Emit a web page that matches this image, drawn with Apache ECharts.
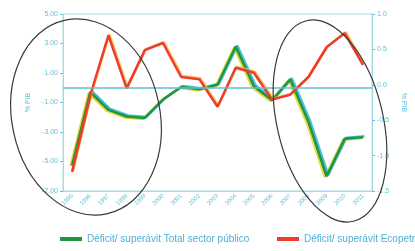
<!DOCTYPE html>
<html lang="es">
<head>
	<meta charset="UTF-8">
	<title>Déficit/ superávit</title>
	<script src="https://cdn.jsdelivr.net/npm/echarts@6/dist/echarts.min.js"></script>
	<style>
		html, body { margin: 0; padding: 0; background: #fff; }
	</style>
</head>
<body>
	<div id="chart" style="width: 415px;height: 251px;"></div>
	<script>
		var years = ['1995', '1996', '1997', '1998', '1999', '2000', '2001', '2002', '2003',
			'2004', '2005', '2006', '2007', '2008', '2009', '2010', '2011'];
		// % PIB, eje izquierdo
		var totalSector = [-5.25, -0.3, -1.5, -1.95, -2.05, -0.8, 0.05, -0.1, 0.2,
			2.8, 0.1, -0.85, 0.57, -2.3, -6.0, -3.45, -3.35];
		// % PIB, eje derecho
		var ecopetrol = [-1.23, -0.15, 0.70, -0.05, 0.49, 0.59, 0.11, 0.08, -0.31,
			0.24, 0.17, -0.21, -0.14, 0.11, 0.53, 0.73, 0.28];
		var leftTicks = [-7, -5, -3, -1, 1, 3, 5];
		var rightTicks = [-1.5, -1.0, -0.5, 0.0, 0.5, 1.0];

		var nameTotal = 'Déficit/ superávit Total sector público';
		var nameEco = 'Déficit/ superávit Ecopetrol';
		var cyan = '#62c2d6';
		var font = 'Liberation Sans';

		var myChart = echarts.init(document.getElementById('chart'));
		var option = {
			animation: false,
			backgroundColor: '#fff',
			textStyle: { fontFamily: font },
			grid: {
				left: 63, right: 29, top: 14, bottom: 60,
				show: true, borderColor: '#a6dbe4', borderWidth: 1
			},
			legend: [{
				data: [nameTotal],
				left: 55, top: 229,
				itemWidth: 22, itemHeight: 4, icon: 'rect',
				textStyle: { fontSize: 10, color: '#4fb0d6', fontFamily: font }
			}, {
				data: [nameEco],
				left: 272, top: 229,
				itemWidth: 22, itemHeight: 4, icon: 'rect',
				textStyle: { fontSize: 10, color: '#4fb0d6', fontFamily: font }
			}],
			xAxis: {
				type: 'category',
				data: years,
				boundaryGap: true,
				axisLine: { onZero: false, lineStyle: { color: '#a6dbe4' } },
				axisTick: { show: false },
				axisLabel: { rotate: 45, fontSize: 6, color: cyan, margin: 4, interval: 0 }
			},
			yAxis: [{
				type: 'value',
				min: -7, max: 5,
				name: '% PIB', nameLocation: 'middle', nameGap: 31, nameRotate: 90,
				nameTextStyle: { fontSize: 7, color: cyan },
				splitLine: { show: false },
				axisLine: { show: true, lineStyle: { color: '#a6dbe4' } },
				axisTick: { show: true, length: 3, customValues: leftTicks, lineStyle: { color: cyan } },
				axisLabel: {
					customValues: leftTicks, fontSize: 7, color: cyan, margin: 5,
					formatter: function (v) { return v.toFixed(2); }
				}
			}, {
				type: 'value',
				min: -1.5, max: 1.0,
				name: '% PIB', nameLocation: 'middle', nameGap: 24, nameRotate: -90,
				nameTextStyle: { fontSize: 7, color: cyan },
				splitLine: { show: false },
				axisLine: { show: true, lineStyle: { color: '#a6dbe4' } },
				axisTick: { show: true, length: 3, customValues: rightTicks, lineStyle: { color: cyan } },
				axisLabel: {
					customValues: rightTicks, fontSize: 7, color: cyan, margin: 5,
					formatter: function (v) { return v.toFixed(1); }
				}
			}],
			series: [{
				// sombra amarilla del trazo verde (efecto de impresion)
				name: 'sombra',
				type: 'line',
				yAxisIndex: 0,
				data: totalSector,
				showSymbol: false,
				silent: true,
				z: 1,
				lineStyle: {
					color: '#e6d640', width: 2.5,
					shadowColor: '#e6d640', shadowBlur: 0, shadowOffsetX: -1.6, shadowOffsetY: 1
				},
				markLine: {
					silent: true,
					symbol: 'none',
					label: { show: false },
					lineStyle: { color: '#5fc0d4', width: 1.5, type: 'solid' },
					data: [{ yAxis: 0 }]
				}
			}, {
				name: nameEco,
				type: 'line',
				yAxisIndex: 1,
				data: ecopetrol,
				showSymbol: false,
				z: 3,
				itemStyle: { color: '#ee3b2f' },
				lineStyle: {
					color: '#ee3b2f', width: 2.5,
					shadowColor: 'rgba(240,190,60,0.8)', shadowBlur: 0, shadowOffsetX: 1, shadowOffsetY: -1
				}
			}, {
				name: nameTotal,
				type: 'line',
				yAxisIndex: 0,
				data: totalSector,
				showSymbol: false,
				z: 2,
				itemStyle: { color: '#21963c' },
				lineStyle: {
					color: '#21963c', width: 2.5,
					shadowColor: '#45bfe0', shadowBlur: 0, shadowOffsetX: 1.6, shadowOffsetY: -1
				}
			}],
			graphic: [{
				type: 'ellipse',
				x: 86, y: 117,
				rotation: 0.21,
				shape: { cx: 0, cy: 0, rx: 74, ry: 99 },
				style: { fill: 'none', stroke: '#3a3a3a', lineWidth: 1.2 },
				z: 100
			}, {
				type: 'ellipse',
				x: 330, y: 121,
				rotation: 0.23,
				shape: { cx: 0, cy: 0, rx: 53, ry: 103 },
				style: { fill: 'none', stroke: '#3a3a3a', lineWidth: 1.2 },
				z: 100
			}]
		};
		myChart.setOption(option);
	</script>
</body>
</html>
